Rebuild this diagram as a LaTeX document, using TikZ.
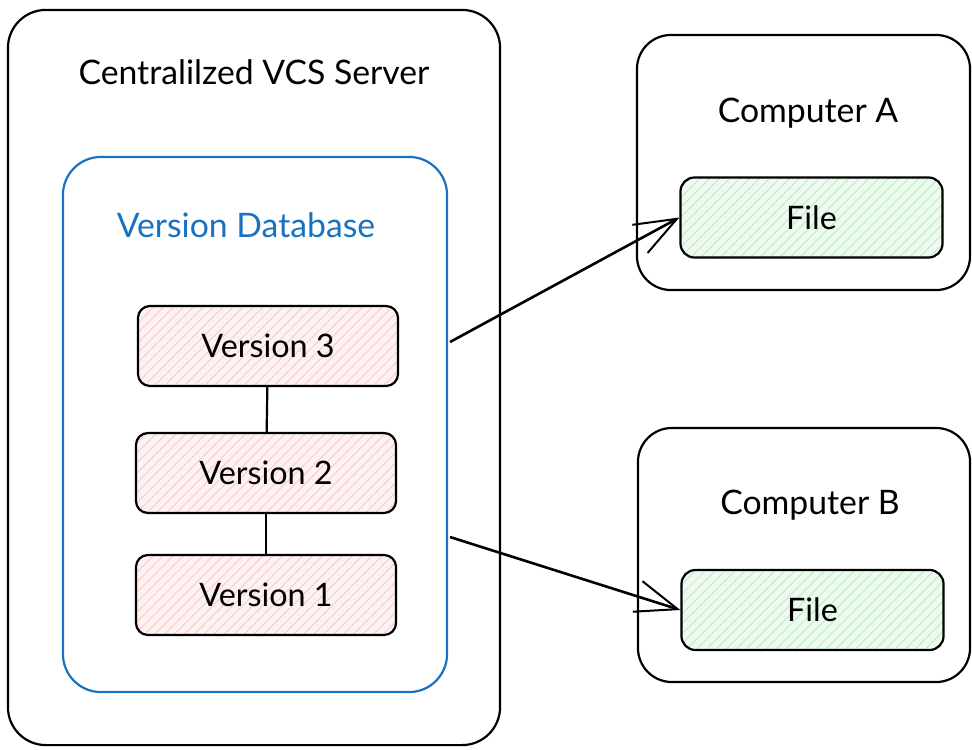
\documentclass[tikz,border=0pt]{standalone}
\usepackage{fontspec}
\setmainfont{Lato}
\usetikzlibrary{arrows.meta,patterns.meta}

\definecolor{dbblue}{HTML}{1971C2}
\definecolor{verfill}{HTML}{FDF1F1}
\definecolor{verhatch}{HTML}{F5C4C4}
\definecolor{filefill}{HTML}{EEFAEF}
\definecolor{filehatch}{HTML}{B2E8BA}

\tikzset{
  box/.style={draw, line width=0.055cm, rounded corners=0.95cm},
  versionbox/.style={draw, line width=0.055cm, rounded corners=0.3cm,
    minimum width=6.5cm, minimum height=2cm,
    preaction={fill=verfill},
    preaction={pattern={Lines[angle=45,distance=5pt,line width=0.5pt]}, pattern color=verhatch}},
  filebox/.style={draw, line width=0.055cm, rounded corners=0.35cm,
    minimum width=6.55cm, minimum height=2cm,
    preaction={fill=filefill},
    preaction={pattern={Lines[angle=45,distance=5pt,line width=0.5pt]}, pattern color=filehatch}},
  caption/.style={font=\fontsize{24}{28}\selectfont},
  arrowline/.style={line width=0.065cm, -{Straight Barb[length=1.05cm,width=0.8cm,line width=0.05cm]}},
  link/.style={line width=0.055cm}
}

\begin{document}
\begin{tikzpicture}[x=0.025cm, y=-0.025cm]
            \useasboundingbox (0,0) rectangle (972,749);
            {\fontsize{23}{27}\selectfont

            % Drawing server box
            \node (server) [box, minimum width=12.3cm, minimum height=18.375cm] at (254,377.5) {};%
            \node (servertitle) [caption] at (254,72) {Centralilzed VCS Server};%

            % Drawing version database
            \node (db) [box, draw=dbblue, minimum width=9.6cm, minimum height=13.375cm] at (255,424.5) {};%
            \node (dbtitle) [caption, text=dbblue] at (246,225) {Version Database};%

            % Drawing versions
            \node (v3) [versionbox] at (268,346) {Version 3};%
            \node (v2) [versionbox] at (266,473) {Version 2};%
            \node (v1) [versionbox] at (266,595) {Version 1};%
            \draw [link] (v3) -- (v2);%
            \draw [link] (v2) -- (v1);%

            % Drawing computer A
            \node (compA) [box, rounded corners=0.85cm, minimum width=8.325cm, minimum height=6.375cm] at (803.5,162.5) {};%
            \node (compAtitle) [caption] at (808,113) {Computer A};%
            \node (fileA) [filebox] at (811.5,217.5) {File};%

            % Drawing computer B
            \node (compB) [box, rounded corners=0.85cm, minimum width=8.3cm, minimum height=6.35cm] at (804,555) {};%
            \node (compBtitle) [caption] at (810,505) {Computer B};%
            \node (fileB) [filebox] at (812.5,610) {File};%

            % Drawing arrows
            \coordinate (outA) at (450,342);%
            \coordinate (outB) at (450,537);%
            \draw [arrowline] (outA) -- (fileA.west);%
            \draw [arrowline] (outB) -- (fileB.west);%
            }
        \end{tikzpicture}
\end{document}
